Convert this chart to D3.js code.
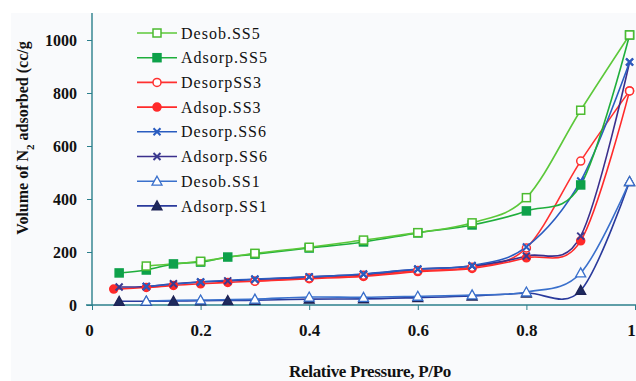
<!DOCTYPE html>
<html><head><meta charset="utf-8">
<script src="https://cdn.jsdelivr.net/npm/d3@7"></script>
<style>
html,body{margin:0;padding:0;background:#fff;}
svg{display:block;}
</style></head>
<body>
<svg id="chart" width="636" height="381"></svg>
<script>
// ---- data ----
const xTicks = [0, 0.2, 0.4, 0.6, 0.8, 1];
const yTicks = [0, 200, 400, 600, 800, 1000];

const desobSS5_x = [0.1, 0.2, 0.3, 0.4, 0.5, 0.6, 0.7, 0.8, 0.9, 0.99];
const desobSS5_y = [147, 165, 195, 218, 245, 273, 310, 405, 735, 1019];
const adsorpSS5_x = [0.05, 0.1, 0.15, 0.2, 0.25, 0.3, 0.4, 0.5, 0.6, 0.7, 0.8, 0.9, 0.99];
const adsorpSS5_y = [121, 132, 155, 162, 181, 192, 215, 238, 272, 302, 355, 453, 1019];

const desorpSS3_x = [0.3, 0.4, 0.5, 0.6, 0.7, 0.8, 0.9, 0.99];
const desorpSS3_y = [90, 102, 112, 130, 142, 215, 543, 808];
const adsopSS3_x = [0.04, 0.1, 0.15, 0.2, 0.25, 0.3, 0.4, 0.5, 0.6, 0.7, 0.8, 0.9, 0.99];
const adsopSS3_y = [60, 66, 74, 80, 85, 90, 99, 108, 126, 138, 178, 242, 808];

const desorpSS6_x = [0.1, 0.2, 0.3, 0.4, 0.5, 0.6, 0.7, 0.8, 0.9, 0.99];
const desorpSS6_y = [70, 87, 98, 106, 117, 136, 149, 219, 468, 917];
const adsorpSS6_x = [0.05, 0.1, 0.15, 0.2, 0.25, 0.3, 0.4, 0.5, 0.6, 0.7, 0.8, 0.9, 0.99];
const adsorpSS6_y = [68, 70, 80, 87, 91, 96, 106, 116, 135, 147, 185, 260, 917];

const desobSS1_x = [0.1, 0.2, 0.3, 0.4, 0.5, 0.6, 0.7, 0.8, 0.9, 0.99];
const desobSS1_y = [15, 19, 22, 30, 29, 33, 38, 49, 121, 466];
const adsorpSS1_x = [0.05, 0.1, 0.15, 0.2, 0.25, 0.3, 0.4, 0.5, 0.6, 0.7, 0.8, 0.9, 0.99];
const adsorpSS1_y = [14, 14, 15, 16, 17, 18, 22, 23, 28, 34, 45, 55, 466];

const seriesNames = ["Desob.SS5", "Adsorp.SS5", "DesorpSS3", "Adsop.SS3", "Desorp.SS6", "Adsorp.SS6", "Desob.SS1", "Adsorp.SS1"];

// ---- styles ----
const styles = [
  {line: "#5cc83a", stroke: "#4cbb30", fill: "#ffffff", marker: "square"},
  {line: "#1fae3c", stroke: "#0ea14a", fill: "#0ea14a", marker: "square"},
  {line: "#ff3030", stroke: "#ff3030", fill: "#ffffff", marker: "circle"},
  {line: "#ff2a2a", stroke: "#ff2a2a", fill: "#ff2a2a", marker: "circle"},
  {line: "#2a5cc0", stroke: "#2a5cc0", fill: "none", marker: "x"},
  {line: "#3b2f8c", stroke: "#3b3a90", fill: "none", marker: "x"},
  {line: "#3a70cc", stroke: "#3a70cc", fill: "#ffffff", marker: "tri"},
  {line: "#2a3a9c", stroke: "#1e2356", fill: "#1e2a5e", marker: "tri"}
];

const seriesData = [
  [desobSS5_x, desobSS5_y], [adsorpSS5_x, adsorpSS5_y],
  [desorpSS3_x, desorpSS3_y], [adsopSS3_x, adsopSS3_y],
  [desorpSS6_x, desorpSS6_y], [adsorpSS6_x, adsorpSS6_y],
  [desobSS1_x, desobSS1_y], [adsorpSS1_x, adsorpSS1_y]
];

const svg = d3.select("#chart");
svg.append("rect").attr("x", 11).attr("y", 13).attr("width", 625).attr("height", 368).attr("fill", "#f9fafc");

const x = d3.scaleLinear().domain([0, 1]).range([92, 635]);
const y = d3.scaleLinear().domain([0, 1000]).range([305, 40]);
const axisColor = "#2b7f8c";

// axes
const gx = svg.append("g").attr("transform", "translate(0,305)")
  .call(d3.axisBottom(x).tickValues(xTicks).tickSize(5).tickPadding(14).tickFormat(d3.format("")));
gx.select(".domain").attr("d", "M86,0H636").attr("stroke", axisColor).attr("stroke-width", 1.4);
gx.selectAll(".tick line").attr("stroke", axisColor);
gx.selectAll(".tick text").attr("fill", "#111").style("font", "bold 17px 'Liberation Serif', serif")
  .attr("x", d => d === 1 ? -4 : (d === 0 ? -3 : 0));

const gy = svg.append("g").attr("transform", "translate(92,0)")
  .call(d3.axisLeft(y).tickValues(yTicks).tickSize(5).tickPadding(10).tickFormat(d3.format("d")));
gy.select(".domain").attr("d", "M0,305V13").attr("stroke", axisColor).attr("stroke-width", 1.4);
gy.selectAll(".tick line").attr("stroke", axisColor);
gy.selectAll(".tick text").attr("fill", "#111").style("font", "bold 16px 'Liberation Serif', serif").attr("dy", "0.35em");

// titles
svg.append("text").attr("x", 370).attr("y", 377).attr("text-anchor", "middle")
  .style("font", "bold 17px 'Liberation Serif', serif").style("letter-spacing", "-0.3px").attr("fill", "#111")
  .text("Relative Pressure, P/Po");
const yt = svg.append("text").attr("transform", "translate(28,138) rotate(-90)").attr("text-anchor", "middle")
  .style("font", "bold 16px 'Liberation Serif', serif").attr("fill", "#111");
yt.append("tspan").text("Volume of N");
yt.append("tspan").attr("baseline-shift", "sub").style("font-size", "11px").text("2");
yt.append("tspan").text(" adsorbed (cc/g");

// marker drawer
function drawMarker(g, type, cx, cy, st) {
  if (type === "square") {
    g.append("rect").attr("x", cx - 4).attr("y", cy - 4).attr("width", 8).attr("height", 8)
      .attr("fill", st.fill).attr("stroke", st.stroke).attr("stroke-width", 1.5);
  } else if (type === "circle") {
    g.append("circle").attr("cx", cx).attr("cy", cy).attr("r", 4)
      .attr("fill", st.fill).attr("stroke", st.stroke).attr("stroke-width", 1.5);
  } else if (type === "x") {
    g.append("path").attr("d", `M${cx-3.5},${cy-3.5}L${cx+3.5},${cy+3.5}M${cx+3.5},${cy-3.5}L${cx-3.5},${cy+3.5}`)
      .attr("stroke", st.stroke).attr("stroke-width", 2).attr("fill", "none");
  } else if (type === "tri") {
    g.append("path").attr("d", `M${cx},${cy-5}L${cx+5},${cy+4}L${cx-5},${cy+4}Z`)
      .attr("fill", st.fill).attr("stroke", st.stroke).attr("stroke-width", 1.3);
  }
}

// draw order: SS3, SS6, SS5, SS1
const order = [3, 2, 5, 4, 1, 0, 7, 6];
const lineGen = d3.line().x(d => x(d[0])).y(d => y(d[1])).curve(d3.curveCardinal.tension(0));
const plot = svg.append("g");
order.forEach(i => {
  const [xs, ys] = seriesData[i];
  const pts = xs.map((v, k) => [v, ys[k]]);
  plot.append("path").datum(pts).attr("d", lineGen).attr("fill", "none")
    .attr("stroke", styles[i].line).attr("stroke-width", 1.6);
});
order.forEach(i => {
  const [xs, ys] = seriesData[i];
  const g = plot.append("g");
  xs.forEach((v, k) => drawMarker(g, styles[i].marker, x(v), y(ys[k]), styles[i]));
});

// legend
const legend = svg.append("g");
seriesNames.forEach((name, i) => {
  const ly = 33 + i * 24.7;
  legend.append("line").attr("x1", 137).attr("x2", 177).attr("y1", ly).attr("y2", ly)
    .attr("stroke", styles[i].line).attr("stroke-width", 1.6);
  drawMarker(legend, styles[i].marker, 157, ly, styles[i]);
  legend.append("text").attr("x", 181).attr("y", ly).attr("dy", "0.35em")
    .style("font", "16px 'Liberation Serif', serif").style("letter-spacing", "1px").attr("fill", "#111")
    .text(name);
});
</script>
</body></html>
